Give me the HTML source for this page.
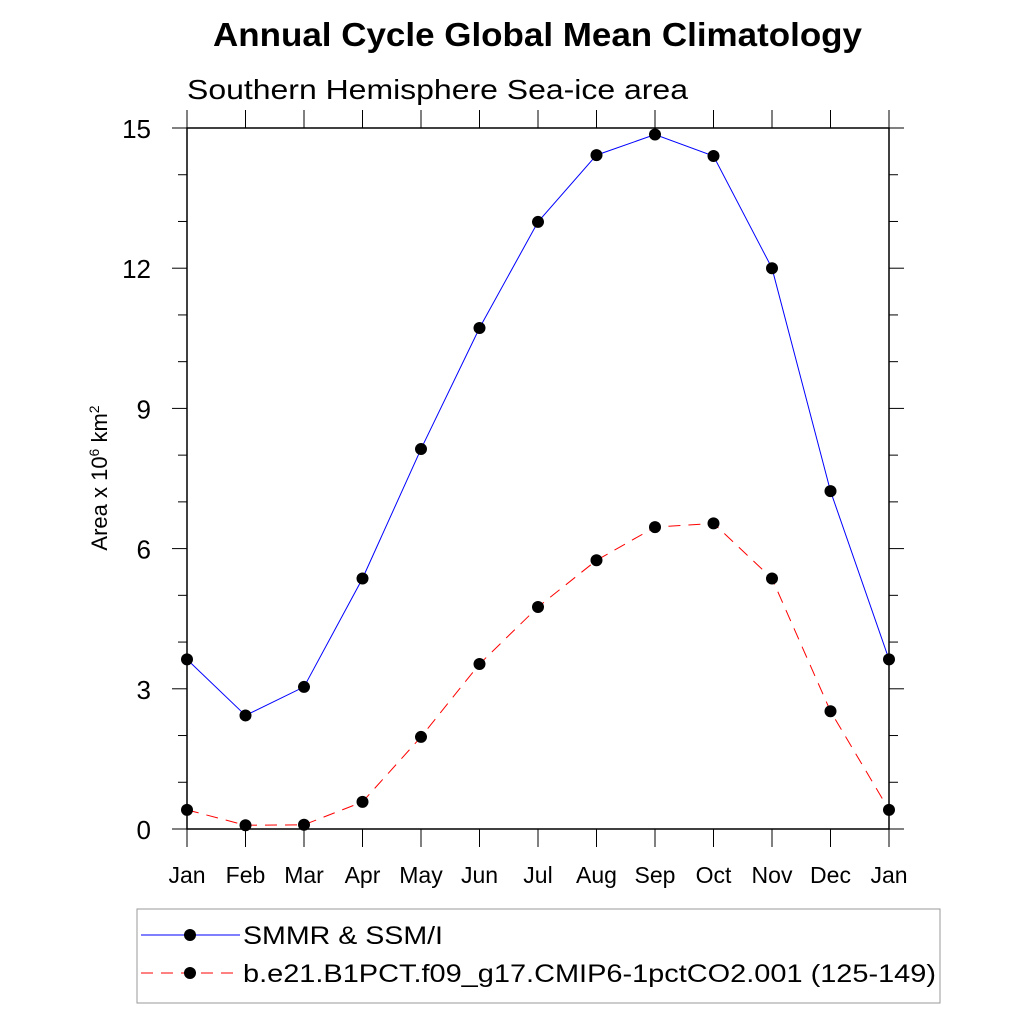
<!DOCTYPE html>
<html><head><meta charset="utf-8"><style>body{margin:0;background:#fff}svg{display:block}</style></head>
<body>
<svg id="c" width="1024" height="1024" xmlns="http://www.w3.org/2000/svg" font-family="Liberation Sans, sans-serif">
<text x="213" y="46" font-size="33" font-weight="bold" textLength="649" lengthAdjust="spacingAndGlyphs">Annual Cycle Global Mean Climatology</text>
<text x="187" y="99" font-size="28" textLength="501" lengthAdjust="spacingAndGlyphs">Southern Hemisphere Sea-ice area</text>
<text transform="translate(107,478) rotate(-90)" font-size="22" text-anchor="middle">Area x 10<tspan font-size="14" dy="-8">6</tspan><tspan dy="8"> km</tspan><tspan font-size="14" dy="-8">2</tspan></text>
<g id="axes"></g><g id="series"></g>
<rect x="137" y="909" width="803" height="94" fill="none" stroke="#999" stroke-width="1"/>
<g>
<line x1="141" y1="935" x2="240" y2="935" stroke="#0000ff" stroke-width="1"/><circle cx="190" cy="935" r="6" fill="#000"/>
<text x="243" y="944" font-size="25" textLength="200" lengthAdjust="spacingAndGlyphs">SMMR &amp; SSM/I</text></g>
<g>
<line x1="141" y1="973" x2="240" y2="973" stroke="#ff0000" stroke-width="1" stroke-dasharray="12,8"/><circle cx="190" cy="973" r="6" fill="#000"/>
<text x="243" y="982" font-size="25" textLength="693" lengthAdjust="spacingAndGlyphs">b.e21.B1PCT.f09_g17.CMIP6-1pctCO2.001 (125-149)</text></g>
</svg>
<script>
const months=["Jan","Feb","Mar","Apr","May","Jun","Jul","Aug","Sep","Oct","Nov","Dec","Jan"];
const obsValues=[3.63,2.43,3.04,5.36,8.13,10.72,12.99,14.42,14.86,14.4,12.0,7.23,3.63];
const modelValues=[0.41,0.08,0.09,0.58,1.97,3.53,4.75,5.75,6.46,6.54,5.36,2.52,0.41];
const yTicks=[0,3,6,9,12,15];
const NS="http://www.w3.org/2000/svg";
const x0=187,x1=889,y0=829,y1=128;
const xs=i=>x0+(x1-x0)*i/(months.length-1);
const ys=v=>y0-(y0-y1)*v/15;
function mk(t,a,p){const e=document.createElementNS(NS,t);for(const k in a)e.setAttribute(k,a[k]);p.appendChild(e);return e;}
const ax=document.getElementById('axes');
const fr=mk('rect',{x:x0,y:y1,width:x1-x0,height:y0-y1,fill:'none',stroke:'#000','stroke-width':1.5},ax);


for(let v=0;v<=15;v++){const y=ys(v);const maj=v%3===0;const l=maj?15:9;
mk('line',{x1:x0-l,y1:y,x2:x0,y2:y,stroke:'#000'},ax);mk('line',{x1:x1,y1:y,x2:x1+l,y2:y,stroke:'#000'},ax);}
yTicks.forEach(v=>{const t=mk('text',{x:151,y:ys(v)+10,'font-size':26,'text-anchor':'end'},ax);t.textContent=v;

});
months.forEach((m,i)=>{const x=xs(i);mk('line',{x1:x,y1:y1-18,x2:x,y2:y1,stroke:'#000'},ax);mk('line',{x1:x,y1:y0,x2:x,y2:y0+18,stroke:'#000'},ax);
const t=mk('text',{x:x,y:883,'font-size':23,'text-anchor':'middle'},ax);t.textContent=m;

});
const sg=document.getElementById('series');
function series(vals,color,dash,name){
const p=mk('polyline',{points:vals.map((v,i)=>xs(i)+','+ys(v)).join(' '),fill:'none',stroke:color,'stroke-width':1,'stroke-dasharray':dash},sg);


vals.forEach((v,i)=>{const c=mk('circle',{cx:xs(i),cy:ys(v),r:6,fill:'#000'},sg);

});}
series(obsValues,'#0000ff','none','obs');
series(modelValues,'#ff0000','12,8','model');
</script>
</body></html>
